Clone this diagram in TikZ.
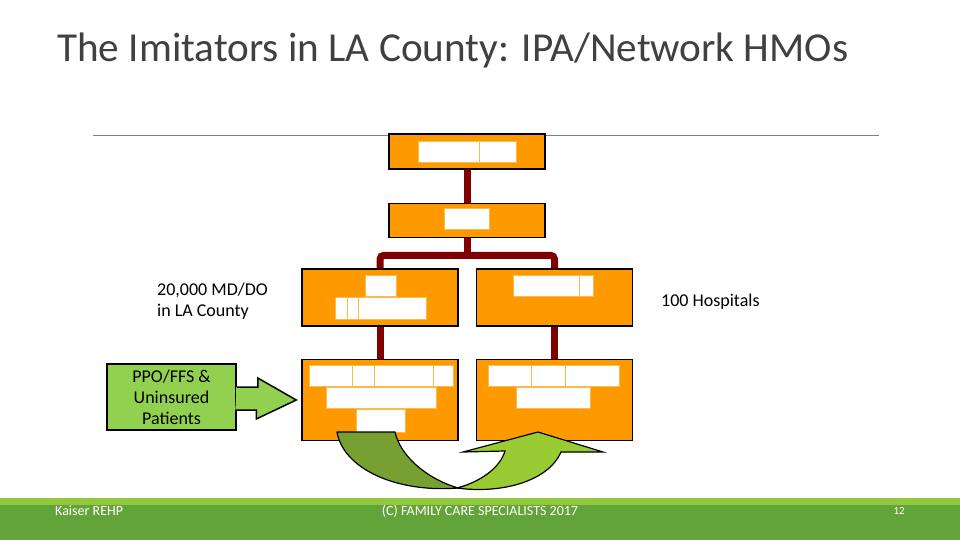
\documentclass[tikz,border=0pt]{standalone}
\usepackage{fontspec}
\setmainfont{Carlito}
\usetikzlibrary{%
  positioning% wg. " of "
}
\definecolor{boxorange}{HTML}{FF9900}
\definecolor{linkred}{HTML}{800000}
\definecolor{darkgreen}{HTML}{77A033}
\definecolor{lightgreen}{HTML}{99CC33}
\definecolor{ppogreen}{HTML}{92D050}
\definecolor{titlegray}{HTML}{404040}
\definecolor{footlight}{HTML}{92C83E}
\definecolor{footdark}{HTML}{62A33A}

\begin{document}
\begin{tikzpicture}[x=1pt,y=-1pt,
    org/.style={draw=black,line width=1.5pt,fill=boxorange,minimum width=156pt,inner sep=0pt},
    link/.style={draw=linkred,line width=7pt},
    cell/.style={fill=white,draw=boxorange!70!white,line width=0.6pt},
    txt/.style={font=\fontsize{18}{21}\selectfont,inner sep=0pt,align=left},
    foot/.style={font=\fontsize{14}{16}\selectfont,text=white,inner sep=0pt}]
    \useasboundingbox (0,0) rectangle (960,540);

    %title
    \node[anchor=base west,inner sep=0pt,text=titlegray,font=\fontsize{41.2}{50}\selectfont] (title) at (57,62) {The Imitators in LA County: IPA/Network HMOs};
    \draw[gray,line width=1pt] (93,136) -- (879,136);

    %top row
    \node[org,minimum height=35pt] (b_1) at (467,151.5) {};
    \node[org,minimum height=34pt] (b_2) [below=33pt of b_1] {};

    %middle row
    \node[org,minimum height=57pt] (b_3) at (380,297.5) {};
    \node[org,minimum height=57pt] (b_4) [right=17pt of b_3] {};

    %bottom row
    \node[org,minimum height=81pt] (b_5) [below=32pt of b_3] {};
    \node[org,minimum height=81pt] (b_6) [below=32pt of b_4] {};

    %links
    \coordinate[below=17pt of b_2.south] (j);
    \draw[link] (b_1) -- (b_2);
    \draw[link] (b_2) -- (j);
    \draw[link,rounded corners=4pt] (b_3.north) |- (j) -| (b_4.north);
    \draw[link] (b_3) -- (b_5);
    \draw[link] (b_4) -- (b_6);

    %white cells
    \foreach \xa/\ya/\xb/\yb in {418/141/479/162, 479/141/516/162,
        444/208/489/229,
        365/275/396/296, 335/297/347/319, 347/297/358/319, 358/297/426/319,
        513/275/579/296, 579/275/593/296,
        309/365/352/386, 352/365/374/386, 374/365/433/386, 433/365/453/386,
        326/387/436/408, 356/409/405/432,
        488/365/531/386, 531/365/565/386, 565/365/619/386, 516/387/590/408}
      \draw[cell] (\xa,\ya) rectangle (\xb,\yb);

    %labels
    \node[txt,anchor=west] (md) at (157,301.5) {20,000 MD/DO\\in LA County};
    \node[txt,anchor=west] (hosp) at (661,302) {100 Hospitals};

    %ppo arrow
    \node[draw=black,line width=1.5pt,fill=ppogreen,minimum width=129pt,minimum height=66pt,
      inner sep=0pt,align=center,font=\fontsize{18}{21}\selectfont] (ppo) at (171.5,397)
      {PPO/FFS \&\\Uninsured\\Patients};
    \coordinate[left=5pt of b_5.west] (tip);
    \fill[ppogreen] ([shift={(-1,-10)}]ppo.east) rectangle ([shift={(2,10)}]ppo.east);
    \draw[line width=1.5pt,fill=ppogreen,line join=miter] ([yshift=10pt]ppo.east) -- ++(21,0) -- ++(0,-9)
      -- (tip) -- ++(-40,19) -- ++(0,-9) -- ++(-21,0);

    %swap arrows
    \draw[line width=1.2pt,fill=darkgreen] (337,432) .. controls (343,468) and (395,493) .. (458,488)
      .. controls (425,478) and (400,455) .. (395,432) -- cycle;
    \draw[line width=1.2pt,fill=lightgreen,line join=miter] (457,488) .. controls (500,494) and (548,482) .. (561,452)
      -- (603,452) -- (538,432) -- (463,452) -- (505,451)
      .. controls (500,468) and (480,482) .. (457,488) -- cycle;

    %footer
    \fill[footdark] (0,505) rectangle (960,540);
    \fill[footlight] (0,498) rectangle (960,505);
    \node[foot,anchor=west] (kaiser) at (55,511) {Kaiser REHP};
    \node[foot] (copy) at (480,511) {(C) FAMILY CARE SPECIALISTS 2017};
    \node[foot,anchor=east,font=\fontsize{11}{13}\selectfont] (page) at (905,511) {12};
\end{tikzpicture}
\end{document}
